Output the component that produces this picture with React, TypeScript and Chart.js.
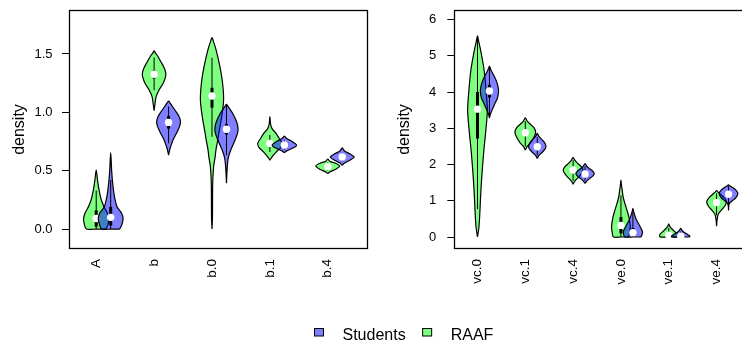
import { useEffect, useRef } from "react";
import { Chart, registerables } from "chart.js";

Chart.register(...registerables);

const FONT = "'Liberation Sans', Arial, Helvetica, sans-serif";
const GREEN = "rgba(0,255,0,0.5)";
const BLUE = "rgba(0,0,255,0.5)";

// ---------- categories & ticks ----------
const leftCategories = ["A", "b", "b.0", "b.1", "b.4"];
const rightCategories = ["vc.0", "vc.1", "vc.4", "ve.0", "ve.1", "ve.4"];
const leftYTicks = [0, 0.5, 1, 1.5];
const rightYTicks = [0, 1, 2, 3, 4, 5, 6];
const legendNames = ["Students", "RAAF"];
const legendColors = [BLUE, GREEN];

// ---------- violin outlines: [value, half-width] from bottom to top ----------
const raafLeftShapes = [
  [[0, 0.17], [0.04, 0.205], [0.09, 0.218], [0.14, 0.19], [0.19, 0.135], [0.24, 0.095], [0.28, 0.072], [0.36, 0.04], [0.43, 0.02], [0.506, 0]],
  [[1.014, 0], [1.07, 0.015], [1.134, 0.035], [1.19, 0.083], [1.249, 0.157], [1.3, 0.195], [1.334, 0.203], [1.38, 0.175], [1.434, 0.117], [1.491, 0.05], [1.51, 0.02], [1.528, 0]],
  [[0, 0], [0.1, 0.008], [0.39, 0.012], [0.534, 0.028], [0.62, 0.055], [0.677, 0.068], [0.763, 0.1], [0.82, 0.118], [0.963, 0.168], [1.106, 0.2], [1.249, 0.183], [1.391, 0.137], [1.534, 0.072], [1.6, 0.03], [1.64, 0]],
  [[0.591, 0], [0.62, 0.04], [0.663, 0.115], [0.7, 0.19], [0.734, 0.21], [0.77, 0.17], [0.82, 0.106], [0.863, 0.035], [0.9, 0.012], [0.963, 0]],
  [[0.477, 0], [0.49, 0.04], [0.51, 0.13], [0.54, 0.206], [0.565, 0.13], [0.578, 0.04], [0.6, 0]],
];
const studentsLeftShapes = [
  [[0, 0.157], [0.04, 0.195], [0.09, 0.214], [0.14, 0.185], [0.19, 0.11], [0.24, 0.082], [0.28, 0.064], [0.39, 0.035], [0.5, 0.017], [0.654, 0]],
  [[0.634, 0], [0.67, 0.015], [0.705, 0.035], [0.763, 0.077], [0.834, 0.15], [0.88, 0.19], [0.92, 0.206], [0.97, 0.175], [1.02, 0.109], [1.063, 0.05], [1.085, 0.02], [1.097, 0]],
  [[0.392, 0], [0.5, 0.01], [0.606, 0.03], [0.677, 0.074], [0.763, 0.149], [0.82, 0.19], [0.863, 0.2], [0.92, 0.175], [0.992, 0.106], [1.034, 0.05], [1.055, 0.02], [1.069, 0]],
  [[0.654, 0], [0.67, 0.04], [0.686, 0.115], [0.705, 0.19], [0.72, 0.21], [0.738, 0.17], [0.757, 0.115], [0.775, 0.04], [0.797, 0]],
  [[0.545, 0], [0.565, 0.04], [0.59, 0.13], [0.617, 0.206], [0.645, 0.13], [0.668, 0.04], [0.695, 0]],
];
const raafRightShapes = [
  [[0, 0], [0.285, 0.031], [0.745, 0.052], [1.3, 0.072], [1.85, 0.1], [2.4, 0.134], [2.95, 0.175], [3.5, 0.206], [4.06, 0.179], [4.61, 0.138], [5.16, 0.065], [5.4, 0.025], [5.55, 0]],
  [[2.4, 0], [2.5, 0.04], [2.62, 0.12], [2.78, 0.19], [2.9, 0.216], [3.02, 0.18], [3.12, 0.1], [3.2, 0.04], [3.29, 0]],
  [[1.46, 0], [1.55, 0.04], [1.66, 0.12], [1.78, 0.19], [1.85, 0.206], [1.94, 0.17], [2.04, 0.09], [2.12, 0.035], [2.2, 0]],
  [[0, 0.155], [0.1, 0.18], [0.28, 0.196], [0.45, 0.18], [0.56, 0.165], [0.7, 0.135], [0.84, 0.103], [1.07, 0.052], [1.3, 0.025], [1.45, 0.01], [1.57, 0]],
  [[0, 0.18], [0.06, 0.19], [0.12, 0.15], [0.19, 0.093], [0.26, 0.04], [0.3, 0.02], [0.36, 0]],
  [[0.3, 0], [0.45, 0.008], [0.61, 0.03], [0.68, 0.06], [0.745, 0.1], [0.85, 0.17], [0.975, 0.206], [1.08, 0.16], [1.18, 0.08], [1.24, 0.03], [1.28, 0]],
];
const studentsRightShapes = [
  [[3.28, 0], [3.37, 0.015], [3.46, 0.04], [3.69, 0.117], [3.85, 0.17], [4.06, 0.19], [4.25, 0.16], [4.43, 0.103], [4.56, 0.05], [4.65, 0.02], [4.72, 0]],
  [[2.17, 0], [2.26, 0.04], [2.36, 0.12], [2.46, 0.175], [2.52, 0.18], [2.6, 0.155], [2.7, 0.09], [2.78, 0.035], [2.86, 0]],
  [[1.48, 0], [1.55, 0.04], [1.63, 0.11], [1.7, 0.175], [1.76, 0.19], [1.83, 0.15], [1.9, 0.08], [1.96, 0.035], [2.03, 0]],
  [[0, 0.17], [0.08, 0.195], [0.147, 0.2], [0.25, 0.165], [0.38, 0.113], [0.47, 0.075], [0.56, 0.05], [0.68, 0.02], [0.79, 0]],
  [[0, 0.19], [0.03, 0.19], [0.08, 0.13], [0.13, 0.07], [0.18, 0.03], [0.24, 0]],
  [[0.73, 0], [0.85, 0.005], [0.93, 0.02], [1.0, 0.08], [1.08, 0.15], [1.2, 0.196], [1.3, 0.15], [1.37, 0.08], [1.41, 0.03], [1.44, 0]],
];

// ---------- box statistics ----------
const raafLeftMedian = [0.09, 1.326, 1.14, 0.734, 0.535];
const raafLeftQ1 = [0.02, 1.29, 1.04, 0.71, 0.52];
const raafLeftQ3 = [0.16, 1.36, 1.21, 0.76, 0.55];
const raafLeftLo = [0, 1.19, 0.79, 0.66, 0.5];
const raafLeftHi = [0.33, 1.47, 1.468, 0.806, 0.57];

const studentsLeftMedian = [0.1, 0.914, 0.855, 0.72, 0.617];
const studentsLeftQ1 = [0.03, 0.86, 0.81, 0.7, 0.6];
const studentsLeftQ3 = [0.19, 0.97, 0.9, 0.74, 0.63];
const studentsLeftLo = [0, 0.735, 0.634, 0.68, 0.58];
const studentsLeftHi = [0.42, 1.05, 1.063, 0.76, 0.65];

const raafRightMedian = [3.53, 2.88, 1.85, 0.32, 0.05, 0.95];
const raafRightQ1 = [2.72, 2.8, 1.8, 0.1, 0.02, 0.9];
const raafRightQ3 = [4.0, 2.95, 1.9, 0.55, 0.1, 1.02];
const raafRightLo = [0.77, 2.5, 1.55, 0, 0, 0.6];
const raafRightHi = [5.5, 3.2, 2.12, 1.15, 0.25, 1.2];

const studentsRightMedian = [4.03, 2.49, 1.74, 0.12, 0.02, 1.18];
const studentsRightQ1 = [3.85, 2.42, 1.7, 0.03, 0, 1.1];
const studentsRightQ3 = [4.2, 2.56, 1.79, 0.25, 0.05, 1.25];
const studentsRightLo = [3.32, 2.25, 1.55, 0, 0, 0.75];
const studentsRightHi = [4.66, 2.75, 1.95, 0.7, 0.15, 1.4];

const RAAF_OFFSET = 0;
const STUDENTS_OFFSET = 0.25;

type Pt = { x: number; y: number };

function violinOutline(center: number, profile: number[][]): Pt[] {
  const right = profile.map(([v, w]) => ({ x: center + w, y: v }));
  const left = [...profile].reverse().map(([v, w]) => ({ x: center - w, y: v }));
  const top = profile[profile.length - 1];
  const pts = right.concat(top[1] === 0 ? left.slice(1) : left);
  const bottom = profile[0];
  if (bottom[1] > 0) {
    pts.push({ x: center, y: bottom[0] });
    pts.push({ x: center + bottom[1], y: bottom[0] });
  }
  return pts;
}

function seriesDatasets(
  shapes: number[][][],
  med: number[],
  q1: number[],
  q3: number[],
  lo: number[],
  hi: number[],
  offset: number,
  color: string
) {
  const ds: any[] = [];
  shapes.forEach((profile, i) => {
    const c = i + 1 + offset;
    ds.push({
      data: violinOutline(c, profile),
      showLine: true,
      fill: "shape",
      backgroundColor: color,
      borderColor: "#000",
      borderWidth: 1.2,
      borderJoinStyle: "round",
      pointRadius: 0,
      tension: 0.3,
    });
    ds.push({
      data: [{ x: c, y: lo[i] }, { x: c, y: hi[i] }],
      showLine: true,
      fill: false,
      borderColor: "#000",
      borderWidth: 1,
      pointRadius: 0,
      tension: 0,
    });
    ds.push({
      data: [{ x: c, y: q1[i] }, { x: c, y: q3[i] }],
      showLine: true,
      fill: false,
      borderColor: "#000",
      borderWidth: 3,
      pointRadius: 0,
      tension: 0,
    });
    ds.push({
      data: [{ x: c, y: med[i] }],
      showLine: false,
      pointRadius: 3.7,
      pointBackgroundColor: "#fff",
      pointBorderColor: "#fff",
      pointBorderWidth: 0,
    });
  });
  return ds;
}

function withOrder(ds: any[]) {
  return ds.map((d, i) => ({ ...d, order: ds.length - i }));
}

const framePlugin = {
  id: "frame",
  afterDraw(chart: any) {
    const { ctx, chartArea } = chart;
    const l = Math.round(chartArea.left) + 0.5;
    const t = Math.round(chartArea.top) + 0.5;
    const r = Math.round(chartArea.right) - 0.5;
    const b = Math.round(chartArea.bottom) - 0.5;
    ctx.save();
    ctx.strokeStyle = "#000";
    ctx.lineWidth = 1.3;
    ctx.strokeRect(l, t, r - l, b - t);
    ctx.restore();
  },
};

function zeroPad(s: any) {
  s.paddingTop = 0;
  s.paddingBottom = 0;
  s.paddingLeft = 0;
  s.paddingRight = 0;
}

function panelOptions(
  cats: string[],
  xmin: number,
  xmax: number,
  ymin: number,
  ymax: number,
  yticks: number[],
  yDigits: number,
  yWidth: number,
  xHeight: number,
  tickPad: number,
  titlePad: number,
  rightPad: number
) {
  return {
    responsive: false,
    animation: false as const,
    events: [],
    layout: { padding: { top: 10, left: 0, right: rightPad, bottom: 0 } },
    plugins: { legend: { display: false }, tooltip: { enabled: false } },
    scales: {
      x: {
        type: "linear" as const,
        position: "bottom" as const,
        min: xmin,
        max: xmax,
        afterBuildTicks: (s: any) => {
          s.ticks = cats.map((_, i) => ({ value: i + 1 }));
        },
        afterFit: (s: any) => {
          s.height = xHeight;
          zeroPad(s);
        },
        ticks: {
          autoSkip: false,
          minRotation: 90,
          maxRotation: 90,
          padding: 10,
          color: "#000",
          font: { family: FONT, size: 13.5 },
          callback: (v: any) => cats[Math.round(Number(v)) - 1],
        },
        grid: { display: false, drawTicks: false },
        border: { display: false },
      },
      y: {
        type: "linear" as const,
        position: "left" as const,
        min: ymin,
        max: ymax,
        afterBuildTicks: (s: any) => {
          s.ticks = yticks.map((v) => ({ value: v }));
        },
        afterFit: (s: any) => {
          s.width = yWidth;
          zeroPad(s);
        },
        ticks: {
          padding: tickPad,
          color: "#000",
          font: { family: FONT, size: 13 },
          callback: (v: any) => Number(v).toFixed(yDigits),
        },
        grid: {
          display: true,
          drawOnChartArea: false,
          drawTicks: true,
          tickLength: 7,
          color: "#000",
          lineWidth: 1,
        },
        border: { display: false },
        title: {
          display: true,
          text: "density",
          color: "#000",
          font: { family: FONT, size: 16 },
          padding: { top: titlePad, bottom: 0 },
        },
      },
    },
  };
}

const legendPlugin = {
  id: "rLegend",
  afterDraw(chart: any) {
    const ctx = chart.ctx;
    ctx.save();
    ctx.font = `16px ${FONT}`;
    ctx.textBaseline = "alphabetic";
    ctx.textAlign = "left";
    let x = 314;
    legendNames.forEach((name, i) => {
      ctx.fillStyle = legendColors[i];
      ctx.fillRect(x + 0.5, 28.5, 9, 7.5);
      ctx.strokeStyle = "#000";
      ctx.lineWidth = 1;
      ctx.strokeRect(x + 0.5, 28.5, 9, 7.5);
      ctx.fillStyle = "#000";
      const tx = x + 28.5;
      ctx.fillText(name, tx, 40);
      x = tx + ctx.measureText(name).width + 16.5;
    });
    ctx.restore();
  },
};

export default function App() {
  const leftRef = useRef<HTMLCanvasElement>(null);
  const rightRef = useRef<HTMLCanvasElement>(null);
  const legendRef = useRef<HTMLCanvasElement>(null);

  useEffect(() => {
    const leftDatasets = withOrder([
      ...seriesDatasets(raafLeftShapes, raafLeftMedian, raafLeftQ1, raafLeftQ3, raafLeftLo, raafLeftHi, RAAF_OFFSET, GREEN),
      ...seriesDatasets(studentsLeftShapes, studentsLeftMedian, studentsLeftQ1, studentsLeftQ3, studentsLeftLo, studentsLeftHi, STUDENTS_OFFSET, BLUE),
    ]);
    const rightDatasets = withOrder([
      ...seriesDatasets(raafRightShapes, raafRightMedian, raafRightQ1, raafRightQ3, raafRightLo, raafRightHi, RAAF_OFFSET, GREEN),
      ...seriesDatasets(studentsRightShapes, studentsRightMedian, studentsRightQ1, studentsRightQ3, studentsRightLo, studentsRightHi, STUDENTS_OFFSET, BLUE),
    ]);

    const left = new Chart(leftRef.current!, {
      type: "scatter",
      data: { datasets: leftDatasets },
      options: panelOptions(leftCategories, 0.53, 5.695, -0.171, 1.877, leftYTicks, 1, 69, 51, 9.5, 10.4, 1.5) as any,
      plugins: [framePlugin],
    });
    const right = new Chart(rightRef.current!, {
      type: "scatter",
      data: { datasets: rightDatasets },
      options: panelOptions(rightCategories, 0.515, 6.72, -0.331, 6.267, rightYTicks, 0, 83.3, 51, 11, 24.4, 1.4) as any,
      plugins: [framePlugin],
    });
    const legend = new Chart(legendRef.current!, {
      type: "scatter",
      data: { datasets: [] },
      options: {
        responsive: false,
        animation: false,
        events: [],
        plugins: { legend: { display: false }, tooltip: { enabled: false } },
        scales: { x: { display: false }, y: { display: false } },
      },
      plugins: [legendPlugin],
    });
    return () => {
      left.destroy();
      right.destroy();
      legend.destroy();
    };
  }, []);

  return (
    <div
      style={{
        position: "fixed",
        left: 0,
        top: 0,
        width: 742,
        height: 344,
        overflow: "hidden",
        background: "#fff",
      }}
    >
      <canvas ref={leftRef} width={372} height={300} style={{ position: "absolute", left: 0, top: 0, width: 372, height: 300 }} />
      <canvas ref={rightRef} width={384} height={300} style={{ position: "absolute", left: 371, top: 0, width: 384, height: 300 }} />
      <canvas ref={legendRef} width={742} height={44} style={{ position: "absolute", left: 0, top: 300, width: 742, height: 44 }} />
    </div>
  );
}
